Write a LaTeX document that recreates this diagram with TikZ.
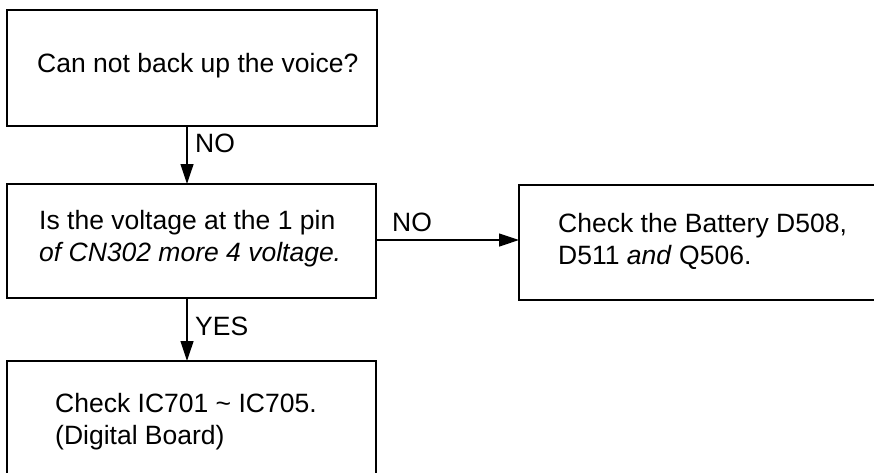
\documentclass[tikz,border=0pt]{standalone}
\usepackage{fontspec}
\setmainfont{Liberation Sans}
\usetikzlibrary{arrows.meta}
\begin{document}
\begin{tikzpicture}[x=1pt,y=-1pt,
  boxst/.style={draw=black, line width=1.4pt, rectangle, inner sep=0pt},
  txt/.style={anchor=west, align=left, inner sep=0pt, font=\fontsize{26.5}{32}\selectfont},
  lbl/.style={anchor=west, inner sep=0pt, font=\fontsize{26.5}{32}\selectfont},
  flow/.style={line width=1.2pt, -{Triangle[length=20pt,width=13pt]}}]
\useasboundingbox (0,0) rectangle (874,472);
\node[boxst, minimum width=370pt, minimum height=116pt] (b1) at (192,68) {};
\node[boxst, minimum width=369pt, minimum height=114pt] (b2) at (191.5,241) {};
\node[boxst, minimum width=380pt, minimum height=115pt] (b3) at (709,242.5) {};
\node[boxst, minimum width=369pt, minimum height=115pt] (b4) at (191.5,418.5) {};
\node[txt] (t1) at (37,66) {Can not back up the voice?};
\node[txt] (t2) at (39,239) {Is the voltage at the 1 pin\\\textit{of CN302 more 4 voltage.}};
\node[txt] (t3) at (558,241) {Check the Battery D508,\\D511 \textit{and} Q506.};
\node[txt] (t4) at (55,422) {Check IC701 \textasciitilde{} IC705.\\(Digital Board)};
\coordinate (a1) at (187,126);
\coordinate (a2) at (187,184);
\coordinate (a3) at (187,298);
\coordinate (a4) at (187,361);
\coordinate (r1) at (376,240);
\coordinate (r2) at (519,240);
\draw[flow] (a1) -- (a2);
\draw[flow] (a3) -- (a4);
\draw[flow] (r1) -- (r2);
\node[lbl] (n1) at (195,143) {NO};
\node[lbl] (n2) at (392,222) {NO};
\node[lbl] (n3) at (195,326) {YES};
\end{tikzpicture}
\end{document}
